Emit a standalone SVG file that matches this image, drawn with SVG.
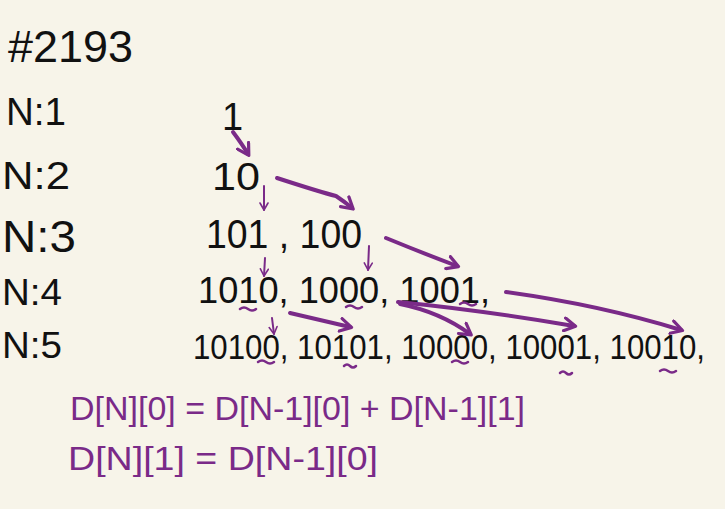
<svg xmlns="http://www.w3.org/2000/svg" width="725" height="509" viewBox="0 0 725 509">
<style>
.hw{font-family:"Liberation Sans",Arial,sans-serif;fill:#111;}
.pp{font-family:"Liberation Sans",Arial,sans-serif;fill:#7a2a88;}
.ar{fill:none;stroke:#7a2a88;stroke-width:4;stroke-linecap:round;}
.thin{fill:none;stroke:#7a2a88;stroke-width:2;stroke-linecap:round;}
.ul{fill:none;stroke:#7a2a88;stroke-width:2.5;stroke-linecap:round;}
</style>
<defs>
<marker id="ah" viewBox="0 0 10 10" refX="7" refY="5" markerWidth="4" markerHeight="4" orient="auto" markerUnits="strokeWidth">
<path d="M1,1 L8,5 L1,9" fill="none" stroke="#7a2a88" stroke-width="2" stroke-linecap="round" stroke-linejoin="round"/>
</marker>
<marker id="ahs" viewBox="0 0 10 10" refX="8" refY="5" markerWidth="5" markerHeight="5" orient="auto" markerUnits="strokeWidth">
<path d="M1,1 L8,5 L1,9" fill="none" stroke="#7a2a88" stroke-width="1.6" stroke-linecap="round" stroke-linejoin="round"/>
</marker>
</defs>
<rect width="725" height="509" fill="#f7f4e9"/>
<g id="title"><text class="hw" x="8" y="62" font-size="44" textLength="125" lengthAdjust="spacingAndGlyphs">#2193</text></g>
<g id="labels">
<text class="hw" x="6" y="125" font-size="38" textLength="60" lengthAdjust="spacingAndGlyphs">N:1</text>
<text class="hw" x="2" y="189" font-size="38" textLength="68" lengthAdjust="spacingAndGlyphs">N:2</text>
<text class="hw" x="2" y="252" font-size="44" textLength="74" lengthAdjust="spacingAndGlyphs">N:3</text>
<text class="hw" x="2" y="305" font-size="36" textLength="60" lengthAdjust="spacingAndGlyphs">N:4</text>
<text class="hw" x="2" y="358" font-size="36" textLength="60" lengthAdjust="spacingAndGlyphs">N:5</text>
</g>
<g id="row1"><text class="hw" x="222" y="130" font-size="38">1</text></g>
<g id="row2"><text class="hw" x="212" y="190" font-size="38" textLength="48" lengthAdjust="spacingAndGlyphs">10</text></g>
<g id="row3"><text class="hw" x="206" y="248" font-size="40" textLength="156" lengthAdjust="spacingAndGlyphs">101 , 100</text></g>
<g id="row4"><text class="hw" x="198" y="303" font-size="36" textLength="292" lengthAdjust="spacingAndGlyphs">1010, 1000, 1001,</text></g>
<g id="row5"><text class="hw" x="193" y="359" font-size="31" textLength="512" lengthAdjust="spacingAndGlyphs" transform="translate(193 359) scale(1 1.15) translate(-193 -359)">10100, 10101, 10000, 10001, 10010,</text></g>
<g id="underlines">
<path class="ul" d="M240,309 q4,-3 8,0 t8,0"/>
<path class="ul" d="M346,307 q4,-3 8,0 t8,0"/>
<path class="ul" d="M460,304 q4,-3 8,0 t8,0"/>
<path class="ul" d="M258,362 q4,-3 8,0 t8,0"/>
<path class="ul" d="M344,366 q3,-3 6,0 t6,0"/>
<path class="ul" d="M452,362 q4,-3 8,0 t8,0"/>
<path class="ul" d="M560,373 q3,-3 6,0 t6,0"/>
<path class="ul" d="M660,371 q4,-3 8,0 t8,0"/>
</g>
<g id="connectors">
<path class="ar" d="M233,132 Q242,144 248,154" marker-end="url(#ah)"/>
<path class="thin" d="M264,186 L264,210" marker-end="url(#ahs)"/>
<path class="ar" d="M277,178 Q320,192 336,196 Q345,202 352,208" marker-end="url(#ah)"/>
<path class="thin" d="M265,258 L264,276" marker-end="url(#ahs)"/>
<path class="thin" d="M369,246 L368,270" marker-end="url(#ahs)"/>
<path class="ar" d="M386,238 Q420,252 457,266" marker-end="url(#ah)"/>
<path class="ar" d="M506,292 Q600,305 681,330" marker-end="url(#ah)"/>
<path class="ar" d="M398,302 Q480,310 574,326" marker-end="url(#ah)"/>
<path class="ar" d="M400,304 Q440,312 470,334" marker-end="url(#ah)"/>
<path class="ar" d="M290,313 Q320,320 350,327" marker-end="url(#ah)"/>
<path class="thin" d="M272,318 L274,334" marker-end="url(#ahs)"/>
</g>
<g id="formulas">
<text class="pp" x="70" y="420" font-size="34" textLength="455" lengthAdjust="spacingAndGlyphs">D[N][0] = D[N-1][0] + D[N-1][1]</text>
<text class="pp" x="68" y="470" font-size="34" textLength="310" lengthAdjust="spacingAndGlyphs">D[N][1] = D[N-1][0]</text>
</g>
</svg>
